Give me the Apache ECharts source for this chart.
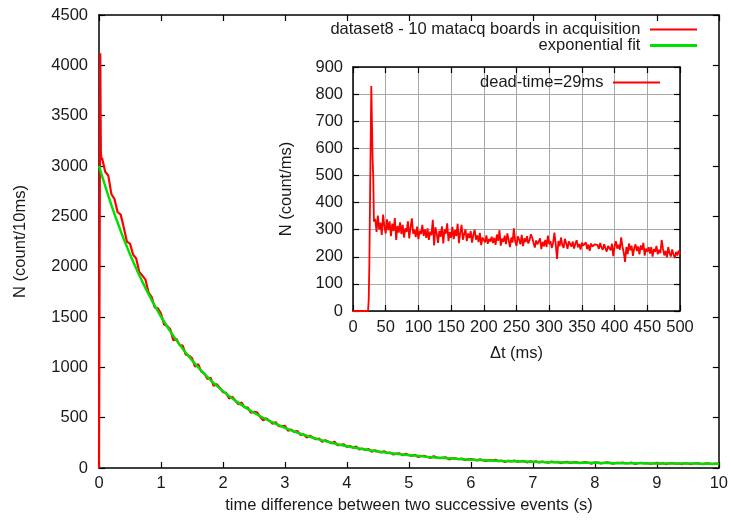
<!DOCTYPE html>
<html>
<head>
<meta charset="utf-8">
<script src="https://cdn.jsdelivr.net/npm/echarts@6/dist/echarts.min.js"></script>
<style>
  html, body { margin: 0; padding: 0; background: #fff; }
  #chart { width: 731px; height: 525px; }
</style>
</head>
<body>
<div id="chart"></div>
<script>
// main plot: counts per 10 ms bin vs time difference (s)
const mainHeadT = [0, 0.01, 0.02, 0.03, 0.04];
const mainHeadN = [0, 0, 4120, 3130, 3060];
const mainStep = 0.05; // remaining points every 50 ms, from 0.05 s
const mainN = [
  3080, 2943, 2905, 2720, 2672, 2541, 2517, 2388, 2249, 2229,
  2120, 2081, 1947, 1911, 1871, 1743, 1697, 1594, 1586, 1535,
  1426, 1411, 1379, 1268, 1282, 1221, 1215, 1127, 1116, 1092,
  1008, 1031, 957, 937, 885, 897, 816, 831, 796, 753,
  747, 691, 709, 669, 634, 651, 601, 600, 550, 558,
  552, 507, 474, 493, 469, 439, 455, 416, 415, 418,
  370, 382, 358, 368, 329, 335, 302, 322, 303, 285,
  293, 260, 275, 262, 246, 261, 226, 230, 235, 210,
  218, 202, 213, 184, 192, 178, 189, 161, 177, 165,
  154, 167, 148, 153, 134, 143, 145, 127, 142, 127,
  121, 131, 109, 119, 120, 109, 101, 116, 104, 97,
  103, 106, 85, 96, 97, 87, 94, 79, 86, 88,
  84, 75, 87, 75, 69, 79, 75, 82, 68, 73,
  61, 73, 65, 73, 63, 65, 70, 56, 65, 60,
  66, 55, 63, 57, 52, 64, 58, 61, 49, 57,
  62, 50, 55, 59, 47, 53, 58, 51, 44, 56,
  54, 46, 52, 57, 49, 43, 52, 50, 55, 45,
  48, 53, 41, 49, 52, 46, 50, 40, 47, 51,
  43, 48, 38, 46, 50, 42, 45, 39, 47, 44,
  37, 45, 49, 41, 38, 46, 43, 37, 45, 41
];

// exponential fit read every 0.25 s
const fitStep = 0.25;
const fitN = [
  3000, 2522, 2122, 1786, 1504, 1268, 1070, 903, 764, 647,
  549, 467, 398, 340, 292, 251, 217, 188, 164, 144,
  128, 113, 102, 92, 83, 76, 70, 66, 61, 58,
  55, 53, 51, 49, 47, 46, 45, 44, 44, 43, 43
];

// inset: counts per ms vs dt (ms)
const insetHeadT = [0, 23, 24, 25, 26, 27, 28, 29, 30, 31, 32];
const insetHeadN = [0, 0, 40, 170, 400, 620, 830, 835, 560, 490, 330];
const insetStart = 34;
const insetStep = 2;
const insetN = [
  340, 292, 352, 301, 326, 281, 356, 312, 286, 338,
  298, 331, 276, 322, 295, 343, 262, 314, 289, 327,
  284, 318, 271, 305, 292, 331, 268, 309, 342, 285,
  300, 273, 311, 265, 296, 284, 318, 277, 301, 270,
  305, 262, 293, 280, 336, 242, 309, 286, 251, 296,
  274, 312, 249, 301, 285, 323, 258, 292, 270, 310,
  265, 298, 276, 322, 250, 289, 318, 263, 284, 301,
  258, 286, 269, 295, 252, 281, 300, 263, 279, 254,
  288, 243, 271, 262, 253, 279, 248, 266, 256, 274,
  251, 270, 244, 282, 259, 298, 241, 267, 255, 278,
  247, 286, 262, 236, 271, 253, 305, 258, 240, 275,
  263, 246, 281, 239, 268, 254, 276, 249, 262, 283,
  271, 252, 234, 260, 246, 241, 268, 228, 255, 239,
  262, 236, 278, 247, 258, 232, 253, 289, 246, 192,
  258, 239, 271, 244, 233, 266, 250, 229, 257, 263,
  238, 256, 230, 249, 261, 235, 247, 227, 252, 241,
  236, 253, 228, 245, 222, 249, 238, 231, 246, 240,
  243, 229, 251, 234, 226, 246, 232, 219, 240, 237,
  224, 248, 202, 239, 257, 230, 244, 226, 272, 238,
  215, 181, 236, 210, 249, 224, 241, 203, 232, 246,
  221, 238, 209, 242, 226, 251, 204, 230, 219, 235,
  212, 236, 201, 228, 218, 240, 209, 226, 213, 262,
  229, 205, 222, 198, 236, 213, 201, 227, 209, 196,
  218, 205, 223, 210
];

const mainXTicks = [0, 1, 2, 3, 4, 5, 6, 7, 8, 9, 10];
const mainYTicks = [0, 500, 1000, 1500, 2000, 2500, 3000, 3500, 4000, 4500];
const insetXTicks = [0, 50, 100, 150, 200, 250, 300, 350, 400, 450, 500];
const insetYTicks = [0, 100, 200, 300, 400, 500, 600, 700, 800, 900];

const nameData = 'dataset8 - 10 matacq boards in acquisition';
const nameFit = 'exponential fit';
const nameInset = 'dead-time=29ms';

const mainData = mainHeadT.map((t, i) => [t, mainHeadN[i]])
  .concat(mainN.map((v, i) => [+((i + 1) * mainStep).toFixed(2), v]));
const fitData = fitN.map((v, i) => [i * fitStep, v]);
const insetData = insetHeadT.map((t, i) => [t, insetHeadN[i]])
  .concat(insetN.map((v, i) => [insetStart + i * insetStep, v]));

const FONT = 'Liberation Sans, Arial, sans-serif';
const FS = 16.5;
const TXT = '#1a1a1a';

function label(margin, show) {
  return { show: show !== false, color: TXT, fontFamily: FONT, fontSize: FS, margin: margin,
    formatter: v => String(v) };
}

function axis(ticks, opts) {
  const base = {
    type: 'value',
    min: ticks[0],
    max: ticks[ticks.length - 1],
    interval: ticks[1] - ticks[0],
    axisLine: { show: true, onZero: false, lineStyle: { color: '#000', width: 1.5 } },
    axisTick: { show: true, inside: true, length: 6, lineStyle: { color: '#000', width: 1.2 } },
    axisLabel: label(8),
    splitLine: { show: false },
    nameTextStyle: { color: TXT, fontFamily: FONT, fontSize: FS }
  };
  return Object.assign(base, opts);
}
const gridLine = { show: true, lineStyle: { color: '#a8a8a8', width: 1 } };
const legendText = { color: TXT, fontFamily: FONT, fontSize: FS };

const chart = echarts.init(document.getElementById('chart'), null, { renderer: 'canvas' });
chart.setOption({
  animation: false,
  backgroundColor: '#fff',
  grid: [
    { left: 99, top: 15, width: 620, height: 453 },
    { left: 353, top: 67, width: 327, height: 244, show: true, backgroundColor: '#fff', borderWidth: 0, z: 3 }
  ],
  legend: [
    { data: [nameData], right: 34, top: 21, padding: 0, align: 'right', icon: 'rect',
      itemWidth: 47, itemHeight: 2, formatter: n => n + ' ', textStyle: legendText },
    { data: [nameFit], right: 34, top: 37, padding: 0, align: 'right', icon: 'rect',
      itemWidth: 47, itemHeight: 3, formatter: n => n + ' ', textStyle: legendText },
    { data: [nameInset], right: 71, top: 74, padding: 0, align: 'right', icon: 'rect',
      itemWidth: 47, itemHeight: 2, formatter: n => n + ' ', z: 10, textStyle: legendText }
  ],
  xAxis: [
    axis(mainXTicks, { gridIndex: 0, position: 'bottom',
      name: 'time difference between two successive events (s)', nameLocation: 'middle', nameGap: 29,
      axisLabel: label(7) }),
    axis(mainXTicks, { gridIndex: 0, position: 'top', axisLabel: label(0, false) }),
    axis(insetXTicks, { gridIndex: 1, position: 'bottom', z: 4,
      name: 'Δt (ms)', nameLocation: 'middle', nameGap: 34, splitLine: gridLine,
      axisLabel: label(8) }),
    axis(insetXTicks, { gridIndex: 1, position: 'top', z: 4, axisLabel: label(0, false) })
  ],
  yAxis: [
    axis(mainYTicks, { gridIndex: 0, position: 'left',
      name: 'N (count/10ms)', nameLocation: 'middle', nameGap: 70,
      axisLabel: label(11) }),
    axis(mainYTicks, { gridIndex: 0, position: 'right', axisLabel: label(0, false) }),
    axis(insetYTicks, { gridIndex: 1, position: 'left', z: 4,
      name: 'N (count/ms)', nameLocation: 'middle', nameGap: 58, splitLine: gridLine,
      axisLabel: label(10) }),
    axis(insetYTicks, { gridIndex: 1, position: 'right', z: 4, axisLabel: label(0, false) })
  ],
  series: [
    { name: nameData, type: 'line', xAxisIndex: 0, yAxisIndex: 0, data: mainData,
      showSymbol: false, itemStyle: { color: '#ff0000' },
      lineStyle: { color: '#ff0000', width: 2.2 }, z: 2 },
    { name: nameFit, type: 'line', xAxisIndex: 0, yAxisIndex: 0, data: fitData,
      showSymbol: false, smooth: 0.4, itemStyle: { color: '#00e000' },
      lineStyle: { color: '#00e000', width: 2.5 }, z: 3 },
    { name: nameInset, type: 'line', xAxisIndex: 2, yAxisIndex: 2, data: insetData,
      showSymbol: false, itemStyle: { color: '#ff0000' },
      lineStyle: { color: '#ff0000', width: 1.8 }, z: 5 }
  ]
});
</script>
</body>
</html>
